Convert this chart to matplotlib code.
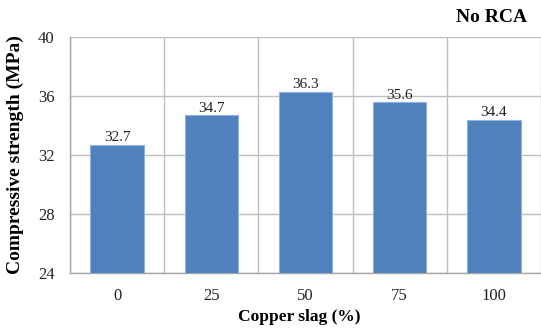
import matplotlib
matplotlib.use("Agg")
import matplotlib.pyplot as plt
import numpy as np

categories = ["0", "25", "50", "75", "100"]
values = [32.7, 34.7, 36.3, 35.6, 34.4]
yticks = [24, 28, 32, 36, 40]

plt.rcParams['font.family'] = ['Liberation Serif', 'DejaVu Serif']

fig = plt.figure(figsize=(5.41, 3.29), dpi=100)
ax = fig.add_axes([70/541, 1-273/329, 1-70/541, (273-37)/329])

x = np.arange(len(categories))
bars = ax.bar(x, values, width=0.565, bottom=0, color='#4F81BD', edgecolor='#8EB4E3', linewidth=0.8, zorder=3)
for xi, v in zip(x, values):
    ax.text(xi, v + 0.02, f"{v:.1f}", ha='center', va='bottom', fontsize=11, color='#222222', zorder=4)

ax.set_ylim(24, 40)
ax.set_xlim(-0.5, 4.5)
ax.set_yticks(yticks)
ax.set_yticklabels([str(t) for t in yticks])
ax.set_xticks(x)
ax.set_xticklabels(categories)
ax.set_xticks(np.arange(-0.5, 5, 1.0), minor=True)
ax.tick_params(axis='both', which='both', length=0, labelsize=12, colors='#222222')
ax.tick_params(axis='y', pad=11)
ax.tick_params(axis='x', pad=11)

ax.grid(axis='y', which='major', color='#BFBFBF', linewidth=1.0, zorder=0)
ax.grid(axis='x', which='minor', color='#BFBFBF', linewidth=1.0, zorder=0)
ax.grid(axis='x', which='major', visible=False)

for s in ['top', 'right']:
    ax.spines[s].set_visible(False)
for s in ['left', 'bottom']:
    ax.spines[s].set_color('#A6A6A6')
    ax.spines[s].set_linewidth(1.0)

ax.set_ylabel("Compressive strength (MPa)", fontsize=14, fontweight='bold', labelpad=10)
fig.text(299/541, 1-317/329, "Copper slag (%)", fontsize=12.5, fontweight='bold', ha='center', va='center')
fig.text(527/541, 1-17/329, "No RCA", fontsize=14, fontweight='bold', ha='right', va='center')

fig.savefig("out.png", dpi=100)
